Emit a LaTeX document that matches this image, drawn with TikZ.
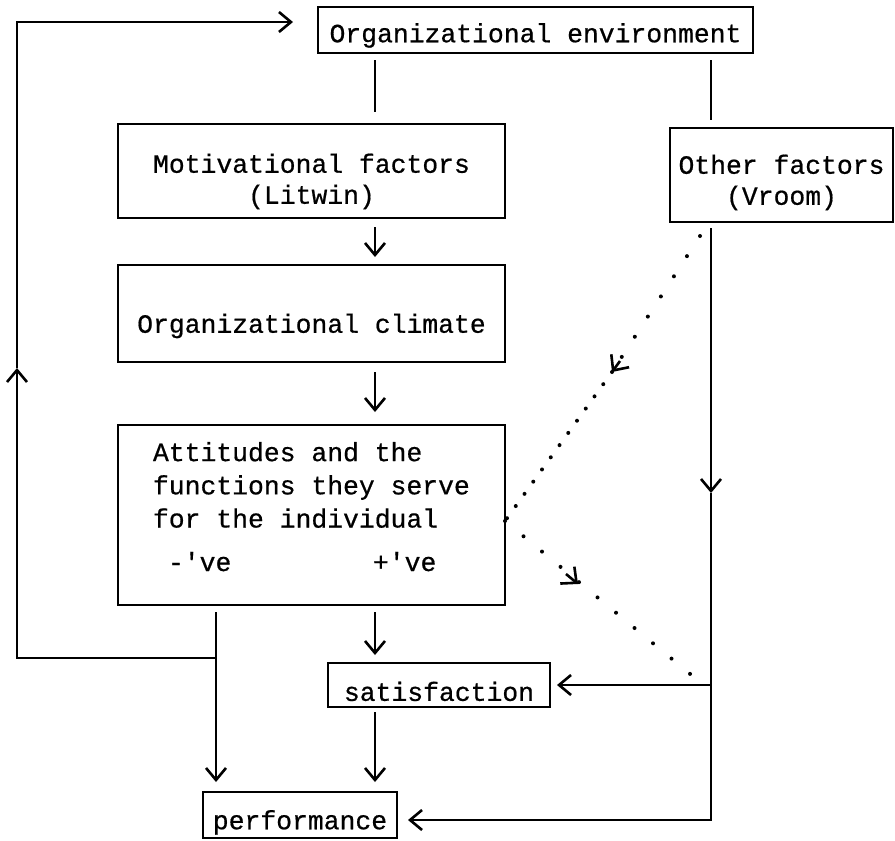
\documentclass[tikz,border=0pt]{standalone}
\usepackage{fontspec}
\newfontfamily\typewr[FakeBold=0.6]{Liberation Mono}
\usetikzlibrary{arrows.meta,calc}
\newcommand{\typedrop}[1]{\rule{0pt}{#1}}

\begin{document}
\begin{tikzpicture}[x=0.5pt,y=-0.5pt,
  box/.style={draw,line width=1.4pt,outer sep=0pt,inner sep=0pt,anchor=north west,align=center,font=\typewr\fontsize{13.2}{15.5}\selectfont},
  txt/.style={inner sep=0pt,outer sep=0pt,font=\typewr\fontsize{13.2}{16.6}\selectfont},
  conn/.style={line width=1.1pt},
  arr/.style={conn,-{Straight Barb[length=6pt,width=10pt,line width=1.3pt]}},
  dots/.style={line width=2pt,line cap=round,dash pattern=on 0pt off 12pt},
  dottip/.style={line width=1.3pt,-{Straight Barb[length=6pt,width=11pt,line width=1.3pt]}}]
\useasboundingbox (0,0) rectangle (895,841);
% ---- boxes ----
\node[box,minimum width=217.5pt,minimum height=23pt] (env) at (318,7) {\typedrop{15pt}Organizational environment};
\node[box,minimum width=193.5pt,minimum height=47pt] (motiv) at (118,124) {\typedrop{20pt}Motivational factors\\(Litwin)};
\node[box,minimum width=111.5pt,minimum height=47pt] (other) at (670,128) {\typedrop{17pt}Other factors\\(Vroom)};
\node[box,minimum width=193.5pt,minimum height=48.5pt] (climate) at (118,265) {\typedrop{22pt}Organizational climate};
\node[box,minimum width=193.5pt,minimum height=90pt] (att) at (118,425) {};
\node[txt,anchor=north west,align=left] (atttxt) at (153,442) {Attitudes and the\\functions they serve\\for the individual};
\node[txt,anchor=base west] (neg) at (168,571) {-\textquotesingle ve};
\node[txt,anchor=base west] (pos) at (373,571) {+\textquotesingle ve};
\node[box,minimum width=111pt,minimum height=22pt] (satisf) at (328,663) {\typedrop{16pt}satisfaction};
\node[box,minimum width=97pt,minimum height=23pt] (perf) at (203,792) {\typedrop{17pt}performance};
% ---- helper points ----
\coordinate (spine) at (375,0);
\coordinate (rail) at (711,0);
\coordinate (negx) at (216,0);
\coordinate (fb) at (216,658);
\coordinate (loopbot) at (17,658);
\coordinate (loopmid) at (17,368);
\coordinate (railmid) at (711,493);
\coordinate (railbot) at (711,820);
\coordinate (dtop) at (700,236);
\coordinate (dmid) at (612,372);
\coordinate (dend) at (695,678);
% ---- middle column ----
\draw[conn,shorten <=3.5pt,shorten >=6pt] (spine |- env.south) -- (spine |- motiv.north);
\draw[arr,shorten <=4.5pt,shorten >=4pt] (spine |- motiv.south) -- (spine |- climate.north);
\draw[arr,shorten <=5pt,shorten >=6.5pt] (spine |- climate.south) -- (spine |- att.north);
\draw[arr,shorten <=3.5pt,shorten >=4pt] (spine |- att.south) -- (spine |- satisf.north);
\draw[arr,shorten <=2.5pt,shorten >=5pt] (spine |- satisf.south) -- (spine |- perf.north);
% ---- -'ve side and feedback loop ----
\draw[arr,shorten <=3.5pt,shorten >=5pt] (negx |- att.south) -- (negx |- perf.north);
\draw[arr] (fb) -- (loopbot) -- (loopmid);
\draw[arr,shorten >=12.5pt] (loopmid) |- ([yshift=4pt]env.west);
% ---- right rail ----
\draw[conn,shorten <=3.5pt,shorten >=4pt] (rail |- env.south) -- (rail |- other.north);
\draw[arr,shorten <=3pt] (rail |- other.south) -- (railmid);
\draw[arr,shorten >=5.5pt] (railmid) -- (railbot) -- ([yshift=-2.5pt]perf.east);
\draw[arr,shorten >=3.5pt] (rail |- satisf.east) -- (satisf.east);
% ---- dotted influences ----
\draw[dots] (dtop) -- (dmid);
\draw[dots,dash pattern=on 0pt off 7.5pt] (dmid) -- ([yshift=-3pt]att.east);
\draw[dots] ([yshift=-3pt]att.east) -- (dend);
\draw[dottip] ($(dmid)+(8,-11)$) -- (dmid);
\draw[dottip] (566,574) -- (578,584);
\end{tikzpicture}
\end{document}
